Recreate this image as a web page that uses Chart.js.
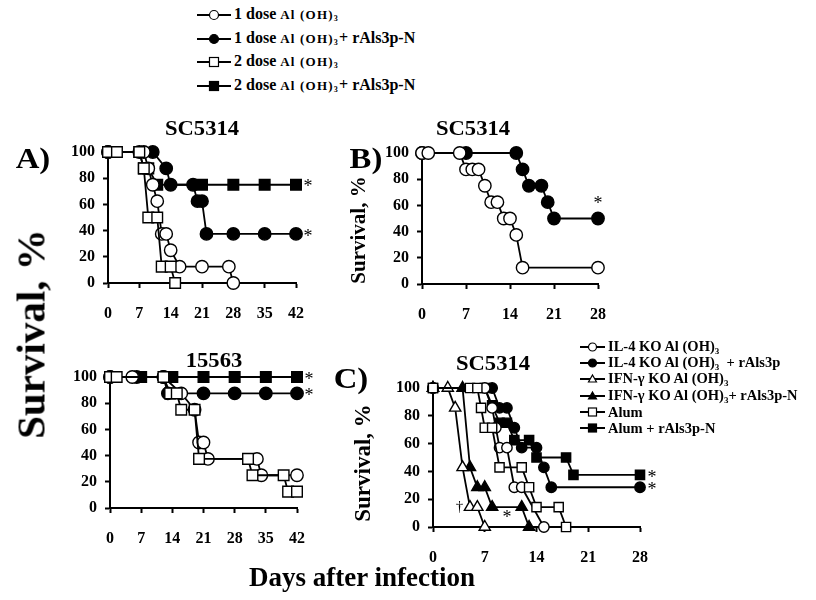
<!DOCTYPE html>
<html>
<head>
<meta charset="utf-8">
<script src="https://cdn.jsdelivr.net/npm/chart.js@4.4.1/dist/chart.umd.min.js"></script>
<style>
  body { margin: 0; background: #fff; }
  #page { position: relative; width: 816px; height: 600px; overflow: hidden;
          font-family: "Liberation Serif", "Times New Roman", serif; font-weight: bold; color: #000; }
  canvas { position: absolute; }
  .t { position: absolute; white-space: nowrap; line-height: 1; transform: translate(-50%, -50%); }
  .w { position: absolute; white-space: nowrap; line-height: 1; transform: translate(-50%, -50%) scaleX(1.13); }
  .v { position: absolute; white-space: nowrap; line-height: 1; transform: translate(-50%, -50%) rotate(-90deg); }
  .leg { position: absolute; display: flex; align-items: center; white-space: nowrap; line-height: 1; }
  .leg svg { flex: none; margin-right: 3px; }
  sub { font-size: 0.62em; vertical-align: -0.3em; }
</style>
</head>
<body>
<div id="page">
  <canvas id="chartA1"></canvas>
  <canvas id="chartA2"></canvas>
  <canvas id="chartB"></canvas>
  <canvas id="chartC"></canvas>

  <div class="w" style="left:33px;top:158px;font-size:29px;">A)</div>
  <div class="w" style="left:366px;top:158px;font-size:29px;">B)</div>
  <div class="w" style="left:351px;top:378px;font-size:29px;">C)</div>

  <div class="w" style="left:202px;top:128px;font-size:20px;">SC5314</div>
  <div class="w" style="left:473px;top:128px;font-size:20px;">SC5314</div>
  <div class="w" style="left:214px;top:360px;font-size:20px;">15563</div>
  <div class="w" style="left:493px;top:363px;font-size:20px;">SC5314</div>

  <div class="v" style="left:31px;top:334px;font-size:41px;">Survival, %</div>
  <div class="v" style="left:358px;top:230px;font-size:21px;">Survival, %</div>
  <div class="v" style="left:362px;top:463px;font-size:23px;">Survival, %</div>
  <div class="t" style="left:362px;top:577px;font-size:27px;">Days after infection</div>

  <div id="legendTop"></div>
  <div id="legendC"></div>
</div>

<script>
/* ── Data (days after infection, % survival) ── */
const dayTicks42 = [0, 7, 14, 21, 28, 35, 42];
const dayTicks28 = [0, 7, 14, 21, 28];
const survTicks  = [0, 20, 40, 60, 80, 100];

// A) SC5314
const a1Dose1AlDays   = [0, 8, 9, 10, 11, 12, 13, 14, 16, 21, 27, 28];
const a1Dose1AlSurv   = [100, 100, 87.5, 75, 62.5, 37.5, 37.5, 25, 12.5, 12.5, 12.5, 0];
const a1Dose1RalsDays = [0, 7, 10, 13, 14, 19, 20, 21, 22, 28, 35, 42];
const a1Dose1RalsSurv = [100, 100, 100, 87.5, 75, 75, 62.5, 62.5, 37.5, 37.5, 37.5, 37.5];
const a1Dose2AlDays   = [0, 2, 7, 8, 9, 11, 12, 14, 15];
const a1Dose2AlSurv   = [100, 100, 100, 87.5, 50, 50, 12.5, 12.5, 0];
const a1Dose2RalsDays = [0, 7, 8, 9, 11, 21, 28, 35, 42];
const a1Dose2RalsSurv = [100, 100, 87.5, 87.5, 75, 75, 75, 75, 75];

// A) 15563
const a2Dose1AlDays   = [0, 5, 12, 16, 19, 20, 21, 22, 33, 34, 42];
const a2Dose1AlSurv   = [100, 100, 100, 87.5, 75, 50, 50, 37.5, 37.5, 25, 25];
const a2Dose1RalsDays = [0, 6, 12, 13, 21, 28, 35, 42];
const a2Dose1RalsSurv = [100, 100, 100, 87.5, 87.5, 87.5, 87.5, 87.5];
const a2Dose2AlDays   = [0, 1.5, 12, 13.5, 15, 16, 19, 20, 31, 32, 39, 40, 42];
const a2Dose2AlSurv   = [100, 100, 100, 87.5, 87.5, 75, 75, 37.5, 37.5, 25, 25, 12.5, 12.5];
const a2Dose2RalsDays = [0, 7, 14, 21, 28, 35, 42];
const a2Dose2RalsSurv = [100, 100, 100, 100, 100, 100, 100];

// B) SC5314
const bAlDays   = [0, 1, 6, 7, 8, 9, 10, 11, 12, 13, 14, 15, 16, 28];
const bAlSurv   = [100, 100, 100, 87.5, 87.5, 87.5, 75, 62.5, 62.5, 50, 50, 37.5, 12.5, 12.5];
const bRalsDays = [0, 7, 15, 16, 17, 19, 20, 21, 28];
const bRalsSurv = [100, 100, 100, 87.5, 75, 75, 62.5, 50, 50];

// C) SC5314, knockout mice
const cIl4AlDays    = [0, 7, 8, 8.5, 9, 10, 11, 12, 15];
const cIl4AlSurv    = [100, 100, 85.7, 71.4, 57.1, 57.1, 28.6, 28.6, 0];
const cIl4RalsDays  = [0, 8, 9, 10, 11, 12, 14, 15, 16, 28];
const cIl4RalsSurv  = [100, 100, 85.7, 85.7, 71.4, 57.1, 57.1, 42.9, 28.6, 28.6];
const cIfnAlDays    = [0, 2, 3, 4, 5, 6, 7];
const cIfnAlSurv    = [100, 100, 85.7, 42.9, 14.3, 14.3, 0];
const cIfnRalsDays  = [0, 4, 5, 6, 7, 8, 12, 13];
const cIfnRalsSurv  = [100, 100, 42.9, 28.6, 28.6, 14.3, 14.3, 0];
const cAlumDays     = [0, 5, 6, 6.5, 7, 8, 9, 12, 13, 14, 17, 18];
const cAlumSurv     = [100, 100, 100, 85.7, 71.4, 71.4, 42.9, 42.9, 28.6, 14.3, 14.3, 0];
const cAlumRalsDays = [0, 7, 8, 9, 10, 11, 13, 14, 18, 19, 28];
const cAlumRalsSurv = [100, 100, 87.5, 75, 75, 62.5, 62.5, 50, 50, 37.5, 37.5];

const legendTopLabels = [
  '1 dose <span class="s">Al (OH)<sub>3</sub></span>',
  '1 dose <span class="s">Al (OH)<sub>3</sub></span>+ rAls3p-N',
  '2 dose <span class="s">Al (OH)<sub>3</sub></span>',
  '2 dose <span class="s">Al (OH)<sub>3</sub></span>+ rAls3p-N'
];
const legendCLabels = [
  'IL-4 KO Al (OH)<sub>3</sub>',
  'IL-4 KO Al (OH)<sub>3</sub> &nbsp;+ rAls3p',
  'IFN-\u03b3 KO Al (OH)<sub>3</sub>',
  'IFN-\u03b3 KO Al (OH)<sub>3</sub>+ rAls3p-N',
  'Alum',
  'Alum + rAls3p-N'
];

/* ── Drawing ───────────────────────────────────────────── */
const FONT = '"Liberation Serif", "Times New Roman", serif';

function notesPlugin(items) {
  return {
    id: "notes",
    afterDatasetsDraw(chart) {
      const ctx = chart.ctx, xs = chart.scales.x, ys = chart.scales.y;
      ctx.save();
      ctx.fillStyle = "#000";
      ctx.textAlign = "center";
      ctx.textBaseline = "middle";
      items.forEach(n => {
        ctx.font = (n.size || 18) + "px " + FONT;
        ctx.fillText(n.text, xs.getPixelForValue(n.x) + (n.dx || 0), ys.getPixelForValue(n.y) + (n.dy || 0));
      });
      ctx.restore();
    }
  };
}

function survivalChart(id, box, xTicks, series, notes) {
  const padL = 70, padT = 20, padR = 30, padB = 45;
  const cv = document.getElementById(id);
  cv.width  = box.right - box.left + padL + padR;
  cv.height = box.bottom - box.top + padT + padB;
  cv.style.left = (box.left - padL) + "px";
  cv.style.top  = (box.top - padT) + "px";

  const tickFont = { family: FONT, size: 16, weight: "bold" };
  const grid = { drawOnChartArea: false, tickLength: 5, tickColor: "#000", tickWidth: 2 };
  const border = { color: "#000", width: 2 };

  return new Chart(cv, {
    type: "line",
    data: {
      datasets: series.map(s => ({
        data: s.days.map((d, i) => ({ x: d, y: s.surv[i] })),
        borderColor: "#000", borderWidth: 1.8, tension: 0, fill: false, clip: false,
        pointStyle: s.shape, pointRadius: s.r,
        pointBackgroundColor: s.filled ? "#000" : "#fff",
        pointBorderColor: "#000", pointBorderWidth: 1.4
      }))
    },
    options: {
      responsive: false, animation: false, events: [],
      layout: { padding: { left: 0, top: padT, right: padR, bottom: 0 } },
      plugins: { legend: { display: false }, tooltip: { enabled: false } },
      scales: {
        x: {
          type: "linear", min: xTicks[0], max: xTicks[xTicks.length - 1],
          afterFit: s => { s.height = padB; },
          afterBuildTicks: s => { s.ticks = xTicks.map(v => ({ value: v })); },
          ticks: { color: "#000", font: tickFont, padding: 16, maxRotation: 0 },
          grid, border
        },
        y: {
          min: 0, max: 100,
          afterFit: s => { s.width = padL; },
          afterBuildTicks: s => { s.ticks = survTicks.map(v => ({ value: v })); },
          ticks: { color: "#000", font: tickFont, padding: 8 },
          grid, border
        }
      }
    },
    plugins: [notesPlugin(notes)]
  });
}

survivalChart("chartA1", { left: 108, right: 296, top: 152, bottom: 283 }, dayTicks42, [
  { days: a1Dose2AlDays,   surv: a1Dose2AlSurv,   shape: "rect",   r: 7.5, filled: false },
  { days: a1Dose1AlDays,   surv: a1Dose1AlSurv,   shape: "circle", r: 6.2, filled: false },
  { days: a1Dose2RalsDays, surv: a1Dose2RalsSurv, shape: "rect",   r: 7.5, filled: true },
  { days: a1Dose1RalsDays, surv: a1Dose1RalsSurv, shape: "circle", r: 6.2, filled: true }
], [
  { x: 42, y: 75,   dx: 12, dy: 3, text: "*" },
  { x: 42, y: 37.5, dx: 12, dy: 3, text: "*" }
]);

survivalChart("chartA2", { left: 110, right: 297, top: 377, bottom: 508 }, dayTicks42, [
  { days: a2Dose2AlDays,   surv: a2Dose2AlSurv,   shape: "rect",   r: 7.5, filled: false },
  { days: a2Dose1AlDays,   surv: a2Dose1AlSurv,   shape: "circle", r: 6.2, filled: false },
  { days: a2Dose2RalsDays, surv: a2Dose2RalsSurv, shape: "rect",   r: 7.5, filled: true },
  { days: a2Dose1RalsDays, surv: a2Dose1RalsSurv, shape: "circle", r: 6.2, filled: true }
], [
  { x: 42, y: 100,  dx: 12, dy: 3, text: "*" },
  { x: 42, y: 87.5, dx: 12, dy: 3, text: "*" }
]);

survivalChart("chartB", { left: 422, right: 598, top: 153, bottom: 284 }, dayTicks28, [
  { days: bAlDays,   surv: bAlSurv,   shape: "circle", r: 6.2, filled: false },
  { days: bRalsDays, surv: bRalsSurv, shape: "circle", r: 6.2, filled: true }
], [
  { x: 28, y: 50, dx: 0, dy: -14, text: "*" }
]);

survivalChart("chartC", { left: 433, right: 640, top: 388, bottom: 527 }, dayTicks28, [
  { days: cAlumDays,     surv: cAlumSurv,     shape: "rect",     r: 6.5, filled: false },
  { days: cIl4AlDays,    surv: cIl4AlSurv,    shape: "circle",   r: 5.2, filled: false },
  { days: cIfnAlDays,    surv: cIfnAlSurv,    shape: "triangle", r: 6.5, filled: false },
  { days: cIfnRalsDays,  surv: cIfnRalsSurv,  shape: "triangle", r: 6.5, filled: true },
  { days: cIl4RalsDays,  surv: cIl4RalsSurv,  shape: "circle",   r: 5.2, filled: true },
  { days: cAlumRalsDays, surv: cAlumRalsSurv, shape: "rect",     r: 6.5, filled: true }
], [
  { x: 28, y: 37.5, dx: 12, dy: 3, text: "*" },
  { x: 28, y: 28.6, dx: 12, dy: 3, text: "*" },
  { x: 3.6, y: 15.7, dx: 0, dy: 2, text: "\u2020", size: 15 },
  { x: 10,  y: 8.4,  dx: 0, dy: 3, text: "*" }
]);

/* ── Legends (HTML) ───────────────────────────────────── */
function markerSvg(w, h, shape, filled, r) {
  const cx = w / 2, cy = h / 2, fill = filled ? "#000" : "#fff";
  let m;
  if (shape === "circle") m = `<circle cx="${cx}" cy="${cy}" r="${r}" fill="${fill}" stroke="#000" stroke-width="1.2"/>`;
  else if (shape === "rect") m = `<rect x="${cx - r}" y="${cy - r}" width="${2 * r}" height="${2 * r}" fill="${fill}" stroke="#000" stroke-width="1.2"/>`;
  else m = `<polygon points="${cx},${cy - r} ${cx + r},${cy + r * 0.75} ${cx - r},${cy + r * 0.75}" fill="${fill}" stroke="#000" stroke-width="1.2"/>`;
  return `<svg width="${w}" height="${h}"><line x1="0" y1="${cy}" x2="${w}" y2="${cy}" stroke="#000" stroke-width="2"/>${m}</svg>`;
}

const topShapes = [["circle", false], ["circle", true], ["rect", false], ["rect", true]];
const topRows = [15, 38.5, 62, 86];
document.getElementById("legendTop").innerHTML = legendTopLabels.map((lab, i) =>
  `<div class="leg" style="left:197px;top:${topRows[i] - 9}px;height:18px;font-size:16px;">` +
  markerSvg(34, 14, topShapes[i][0], topShapes[i][1], 4.5) +
  `<span>${lab.replace(/<span class="s">/g, '<span style="font-size:13px;letter-spacing:1.2px;">')}</span></div>`
).join("");

const cShapes = [["circle", false], ["circle", true], ["tri", false], ["tri", true], ["rect", false], ["rect", true]];
const cRows = [347, 363, 379, 396, 412, 428];
document.getElementById("legendC").innerHTML = legendCLabels.map((lab, i) =>
  `<div class="leg" style="left:580px;top:${cRows[i] - 8}px;height:16px;font-size:14.5px;">` +
  markerSvg(25, 12, cShapes[i][0], cShapes[i][1], 4) +
  `<span>${lab}</span></div>`
).join("");
</script>
</body>
</html>
